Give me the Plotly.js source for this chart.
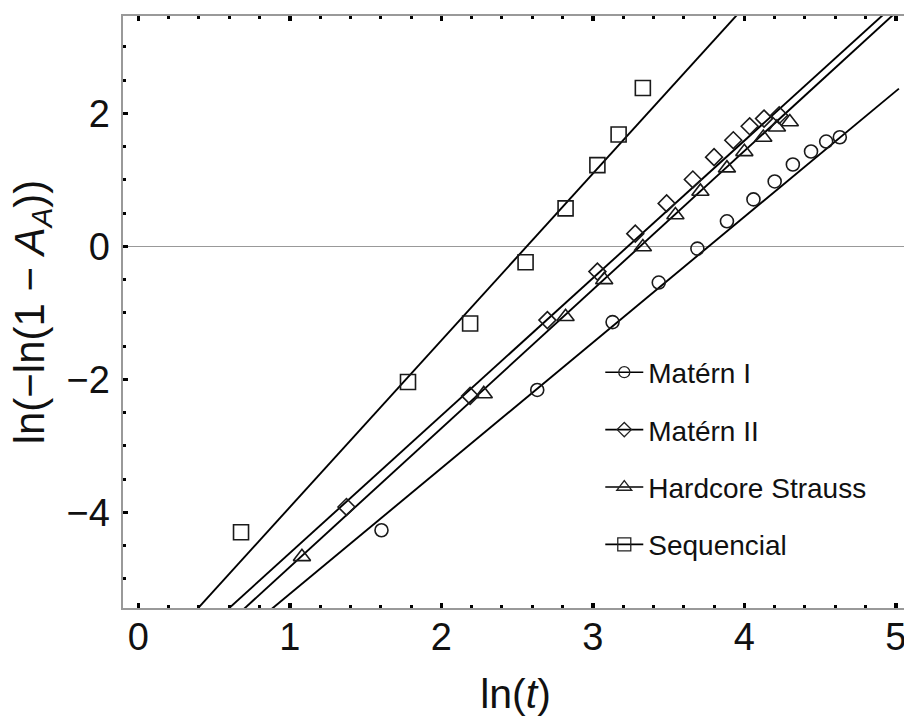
<!DOCTYPE html>
<html><head><meta charset="utf-8">
<script src="https://cdn.plot.ly/plotly-3.0.1.min.js"></script>
<style>html,body{margin:0;padding:0;overflow:hidden;background:#fff}</style>
</head><body><div id="chart" style="width:908px;height:719px"></div>
<script>
// Series names (legend order)
const seriesNames = ['Matérn I', 'Matérn II', 'Hardcore Strauss', 'Sequencial'];
const seriesSymbols = ['circle-open', 'diamond-open', 'triangle-up-open', 'square-open'];

// Data points: x = ln(t), y = ln(-ln(1 - A_A))
const maternIX = [1.605, 2.633, 3.13, 3.435, 3.69, 3.885, 4.06, 4.20, 4.32, 4.44, 4.54, 4.63];
const maternIY = [-4.27, -2.16, -1.14, -0.545, -0.035, 0.376, 0.705, 0.975, 1.23, 1.425, 1.575, 1.64];

const maternIIX = [1.374, 2.19, 2.70, 3.03, 3.28, 3.487, 3.66, 3.80, 3.927, 4.035, 4.13, 4.23];
const maternIIY = [-3.92, -2.25, -1.11, -0.38, 0.19, 0.645, 1.005, 1.34, 1.595, 1.805, 1.92, 1.97];

const straussX = [1.08, 2.28, 2.82, 3.075, 3.33, 3.545, 3.71, 3.885, 4.00, 4.125, 4.215, 4.30];
const straussY = [-4.67, -2.22, -1.06, -0.505, -0.01, 0.47, 0.825, 1.175, 1.42, 1.635, 1.79, 1.87];

const seqX = [0.678, 1.78, 2.19, 2.556, 2.82, 3.03, 3.17, 3.33];
const seqY = [-4.30, -2.04, -1.16, -0.24, 0.57, 1.22, 1.68, 2.38];

// Fitted lines y = slope * x + intercept
const fitSlope = [1.890, 2.067, 2.085, 2.508];
const fitIntercept = [-7.117, -6.68, -6.907, -6.431];
const fitRange = [0, 5.02];

// Axis ticks
const xTickVals = [0, 1, 2, 3, 4, 5];
const yTickVals = [-4, -2, 0, 2];

const dataX = [maternIX, maternIIX, straussX, seqX];
const dataY = [maternIY, maternIIY, straussY, seqY];
const markerSizes = [13, 13, 15, 15];

const traces = [];
// fit lines
for (let i = 0; i < 4; i++) {
  traces.push({
    type: 'scatter', mode: 'lines', showlegend: false, hoverinfo: 'skip',
    x: fitRange.slice(),
    y: fitRange.map(v => fitSlope[i] * v + fitIntercept[i]),
    line: {color: '#000', width: 1.9}
  });
}
// data markers
for (let i = 0; i < 4; i++) {
  traces.push({
    type: 'scatter', mode: 'markers', showlegend: false, name: seriesNames[i],
    x: dataX[i], y: dataY[i],
    marker: {symbol: seriesSymbols[i], size: markerSizes[i], color: '#1a1a1a', line: {color: '#1a1a1a', width: 1.6}}
  });
}
// legend entries (line + marker)
for (let i = 0; i < 4; i++) {
  traces.push({
    type: 'scatter', mode: 'lines+markers', name: seriesNames[i], legendgroup: 'g' + i,
    x: [null], y: [null],
    line: {color: '#000', width: 1.6},
    marker: {symbol: seriesSymbols[i], size: markerSizes[i] - 2, color: '#222', line: {color: '#222', width: 1.3}}
  });
}
// helper trace for the top tick axis
traces.push({type: 'scatter', mode: 'markers', x: [null], y: [null], xaxis: 'x2', yaxis: 'y', showlegend: false, hoverinfo: 'skip'});

const fontFam = 'Liberation Sans, Arial, sans-serif';
const axisCommon = {
  showgrid: false, showline: true, linecolor: '#999', linewidth: 1.6, mirror: true,
  ticks: 'inside', ticklen: 5, tickwidth: 3.5, tickcolor: '#000',
  tickfont: {family: fontFam, size: 38, color: '#111'},
};
const xMinor = {dtick: 0.2, tick0: 0, ticks: 'inside', ticklen: 3, tickwidth: 3, tickcolor: '#000', showgrid: false};
const xRange = [-0.101, 5.08];

const layout = {
  width: 908, height: 719,
  margin: {l: 123, r: 0, t: 16, b: 111},
  paper_bgcolor: '#fff', plot_bgcolor: '#fff',
  font: {family: fontFam, color: '#111'},
  xaxis: Object.assign({}, axisCommon, {
    range: xRange, tickvals: xTickVals, zeroline: false,
    minor: xMinor,
    ticklabelstandoff: -5,
    title: {text: 'ln(<i>t</i>)', font: {size: 41, color: '#111'}, standoff: 22}
  }),
  xaxis2: {
    overlaying: 'x', side: 'top', matches: 'x', range: xRange, tickvals: xTickVals,
    showgrid: false, zeroline: false, showline: false, showticklabels: false,
    ticks: 'inside', ticklen: 5, tickwidth: 3.5, tickcolor: '#000',
    minor: xMinor
  },
  yaxis: Object.assign({}, axisCommon, {
    range: [-5.439, 3.463], tickvals: yTickVals, zeroline: true, zerolinecolor: '#999', zerolinewidth: 1.5,
    minor: {dtick: 0.5, tick0: 0, ticks: 'inside', ticklen: 3, tickwidth: 3, tickcolor: '#000', showgrid: false},
    ticklabelstandoff: 4,
    title: {text: 'ln(−ln(1 − <i>A</i><sub><i>A</i></sub>))', font: {size: 42, color: '#111'}, standoff: 9}
  }),
  showlegend: true,
  legend: {
    x: 0.608, y: 0.44, xanchor: 'left', yanchor: 'top',
    bgcolor: 'rgba(0,0,0,0)', borderwidth: 0, itemwidth: 38,
    font: {family: fontFam, size: 28, color: '#111'},
    tracegroupgap: 18, traceorder: 'grouped'
  }
};

Plotly.newPlot('chart', traces, layout, {displayModeBar: false, staticPlot: true});
</script>
</body></html>
